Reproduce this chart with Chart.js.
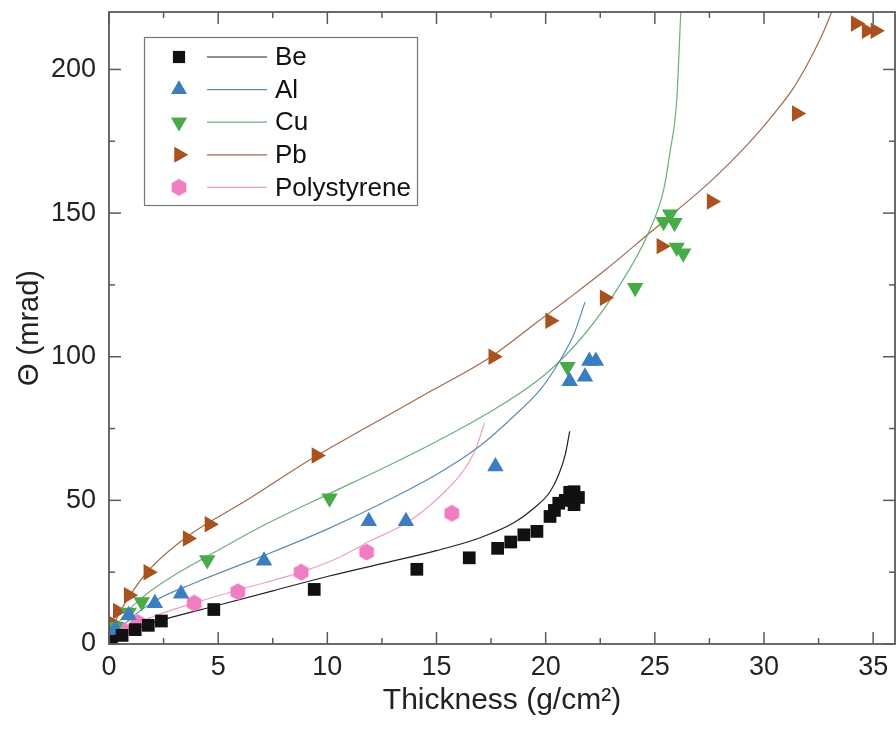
<!DOCTYPE html>
<html>
<head>
<meta charset="utf-8">
<script src="https://cdn.jsdelivr.net/npm/chart.js@4.4.1/dist/chart.umd.min.js"></script>
<style>
html, body { margin: 0; padding: 0; background: #fff; }
</style>
</head>
<body>
<canvas id="myChart" width="896" height="745"></canvas>
<script>
// measured points
const beX = [0.1, 0.6, 1.2, 1.8, 2.4, 4.8, 9.4, 14.1, 16.5, 17.8, 18.4, 19.0, 19.6, 20.2, 20.4, 20.6, 20.9, 21.1, 21.3, 21.5, 21.3];
const beY = [1, 3, 5, 6.5, 8, 12, 19, 26, 30, 33.3, 35.5, 38, 39.2, 44.4, 46.5, 49, 50, 52.8, 53, 51, 48.5];

const alX = [0.3, 0.9, 2.1, 3.3, 7.1, 11.9, 13.6, 17.7, 21.1, 21.8, 22.0, 22.3];
const alY = [5, 10, 14.2, 17.5, 29, 42.7, 42.7, 61.8, 91.5, 93, 98.5, 98.5];

const cuX = [0.3, 0.9, 1.5, 4.5, 10.1, 21.0, 24.1, 25.4, 25.7, 25.9, 26.0, 26.3];
const cuY = [6, 11, 14.6, 29.2, 50.7, 96.5, 124, 147, 149.6, 146.6, 138, 136];

const pbX = [0.15, 0.4, 0.9, 1.8, 3.6, 4.6, 9.5, 17.6, 20.2, 22.7, 25.3, 27.6, 31.5, 34.2, 34.7, 35.1];
const pbY = [7.3, 11.5, 17, 25, 36.7, 41.7, 65.6, 100, 112.5, 120.5, 138.5, 154, 184.7, 216, 213.5, 213.5];

const psX = [0.1, 0.3, 0.6, 1.3, 3.9, 5.9, 8.8, 11.8, 15.7];
const psY = [2, 4, 5, 7.5, 14.2, 18.2, 25, 32, 45.5];

// fit curves
const beFitX = [0, 0.5, 1.3, 2.5, 5, 7.5, 10, 12.5, 15, 17, 18.5, 19.5, 20.2, 20.6, 20.9, 21.1];
const beFitY = [0, 2.5, 5.6, 8.5, 13.5, 18.5, 23.5, 28, 32.5, 37, 42, 47.5, 53, 59, 66, 74];

const alFitX = [0, 0.5, 1, 2.1, 4, 7, 10, 12.5, 15, 17, 18.5, 19.8, 20.6, 21.3, 21.8];
const alFitY = [0, 5, 9, 15, 21.5, 30.5, 40, 49, 59, 69, 79, 89, 98, 108, 119];

const cuFitX = [0, 0.5, 1.5, 3, 4.5, 7, 10, 12.5, 15, 17.5, 20, 21.8, 23.4, 24.7, 25.4, 25.7, 26.0, 26.2];
const cuFitY = [0, 8, 16, 24, 30.5, 41, 52, 61, 70.5, 81, 94, 108, 125, 143, 158, 171.5, 189, 222];

const pbFitX = [0, 0.3, 0.8, 1.8, 3.6, 6.3, 9.5, 11.7, 14.5, 17.5, 19.6, 21, 22.7, 24.7, 27.4, 28.5, 29.5, 30.5, 31.3, 32, 32.6, 33.1, 33.3];
const pbFitY = [0, 8, 15, 25.5, 37.5, 50, 65.5, 75, 87, 100, 112, 120, 130, 142.7, 160, 168, 176, 185, 193, 202, 211, 220, 224];

const psFitX = [0, 1, 2, 4, 6, 8.8, 10.5, 12, 13.6, 15.1, 16.2, 16.8, 17.2];
const psFitY = [0, 6, 9.5, 14.5, 19, 25, 30, 36, 42, 51, 60, 68, 77];

const seriesNames = ['Be', 'Al', 'Cu', 'Pb', 'Polystyrene'];
const xTicks = [0, 5, 10, 15, 20, 25, 30, 35];
const xMinor = [2.5, 7.5, 12.5, 17.5, 22.5, 27.5, 32.5];
const yTicks = [0, 50, 100, 150, 200];
const yMinor = [25, 75, 125, 175];

function toXY(xs, ys) {
    return xs.map((x, i) => ({ x: x, y: ys[i] }));
}

// hexagon marker for polystyrene
function makeHexagon(color) {
    const c = document.createElement('canvas');
    c.width = 18; c.height = 18;
    const g = c.getContext('2d');
    g.fillStyle = color;
    g.beginPath();
    for (let k = 0; k < 6; k++) {
        const a = Math.PI / 6 + k * Math.PI / 3;
        const px = 9 + 8.5 * Math.cos(a), py = 9 + 8.5 * Math.sin(a);
        if (k === 0) g.moveTo(px, py); else g.lineTo(px, py);
    }
    g.closePath();
    g.fill();
    return c;
}
const hexagon = makeHexagon('#f07cc2');

const markers = [
    { color: '#111111', style: 'rect', radius: 9, rotation: 0 },
    { color: '#3a7dc0', style: 'triangle', radius: 9.5, rotation: 0 },
    { color: '#46ab48', style: 'triangle', radius: 9.5, rotation: 180 },
    { color: '#a9521f', style: 'triangle', radius: 9.5, rotation: 90 },
    { color: '#f07cc2', style: hexagon, radius: 9, rotation: 0 }
];
const fitColors = ['#222222', '#5b8db5', '#6caf78', '#a06a4c', '#e9a0cc'];

const pointSets = [toXY(beX, beY), toXY(alX, alY), toXY(cuX, cuY), toXY(pbX, pbY), toXY(psX, psY)];
const fitSets = [toXY(beFitX, beFitY), toXY(alFitX, alFitY), toXY(cuFitX, cuFitY), toXY(pbFitX, pbFitY), toXY(psFitX, psFitY)];

const datasets = [];
fitSets.forEach((d, i) => {
    datasets.push({
        type: 'line',
        label: seriesNames[i] + ' fit',
        data: d,
        borderColor: fitColors[i],
        borderWidth: 1.2,
        pointRadius: 0,
        cubicInterpolationMode: 'monotone',
        fill: false,
        clip: 0,
        order: 2
    });
});
pointSets.forEach((d, i) => {
    const m = markers[i];
    datasets.push({
        type: 'scatter',
        label: seriesNames[i],
        data: d,
        backgroundColor: m.color,
        borderColor: m.color,
        borderWidth: 0,
        pointStyle: m.style,
        pointRadius: m.radius,
        pointRotation: m.rotation,
        showLine: false,
        clip: 0,
        order: 1
    });
});

// inward ticks on all four sides + frame
const framePlugin = {
    id: 'frame',
    afterDatasetsDraw(chart) {
        const ctx = chart.ctx, a = chart.chartArea;
        const xs = chart.scales.x, ys = chart.scales.y;
        ctx.save();
        ctx.strokeStyle = '#5a5a5a';
        ctx.lineWidth = 1.5;
        const tick = (x1, y1, x2, y2) => { ctx.beginPath(); ctx.moveTo(x1, y1); ctx.lineTo(x2, y2); ctx.stroke(); };
        xTicks.forEach(v => { const p = xs.getPixelForValue(v); tick(p, a.bottom, p, a.bottom - 12); tick(p, a.top, p, a.top + 12); });
        xMinor.forEach(v => { const p = xs.getPixelForValue(v); tick(p, a.bottom, p, a.bottom - 6); tick(p, a.top, p, a.top + 6); });
        yTicks.forEach(v => { const p = ys.getPixelForValue(v); tick(a.left, p, a.left + 12, p); tick(a.right, p, a.right - 12, p); });
        yMinor.forEach(v => { const p = ys.getPixelForValue(v); tick(a.left, p, a.left + 6, p); tick(a.right, p, a.right - 6, p); });
        ctx.lineWidth = 1.8;
        ctx.strokeRect(a.left, a.top, a.right - a.left, a.bottom - a.top);
        ctx.restore();
    },
    afterDraw(chart) {
        // legend box with marker + line sample
        const ctx = chart.ctx;
        ctx.save();
        ctx.fillStyle = '#fff';
        ctx.fillRect(144, 37, 274, 169);
        ctx.strokeStyle = '#777';
        ctx.lineWidth = 1.2;
        ctx.strokeRect(144.5, 37.5, 273, 168);
        ctx.font = '26px "Liberation Sans", Arial, sans-serif';
        ctx.textBaseline = 'middle';
        seriesNames.forEach((name, i) => {
            const y = 57 + i * 32.6;
            const m = markers[i];
            ctx.fillStyle = m.color;
            ctx.strokeStyle = m.color;
            Chart.helpers.drawPoint(ctx, { pointStyle: m.style, radius: m.radius * 0.95, rotation: m.rotation, borderWidth: 0 }, 179, y);
            ctx.fill();
            ctx.strokeStyle = fitColors[i];
            ctx.lineWidth = 1.2;
            ctx.beginPath(); ctx.moveTo(207, y); ctx.lineTo(267, y); ctx.stroke();
            ctx.fillStyle = '#111';
            ctx.fillText(name, 275, y + 1);
        });
        ctx.restore();
    }
};

const ctx = document.getElementById('myChart').getContext('2d');
const myChart = new Chart(ctx, {
    data: { datasets: datasets },
    options: {
        responsive: false,
        animation: false,
        layout: { autoPadding: false, padding: { top: 12, right: 1, left: 0, bottom: 0 } },
        plugins: { legend: { display: false }, tooltip: { enabled: false } },
        scales: {
            x: {
                type: 'linear',
                min: 0,
                max: 36,
                afterBuildTicks: s => { s.ticks = xTicks.map(v => ({ value: v })); },
                afterFit: s => { s.height = 101; s.paddingLeft = 0; s.paddingRight = 0; },
                grid: { display: false, drawTicks: false },
                border: { display: false },
                ticks: { color: '#222', padding: 7, font: { size: 27, family: '"Liberation Sans", Arial' } },
                title: {
                    display: true,
                    text: 'Thickness (g/cm\u00B2)',
                    color: '#222',
                    font: { size: 30, family: '"Liberation Sans", Arial' },
                    padding: { top: 0, bottom: 26 }
                }
            },
            y: {
                type: 'linear',
                min: 0,
                max: 220,
                afterBuildTicks: s => { s.ticks = yTicks.map(v => ({ value: v })); },
                afterFit: s => { s.width = 109; s.paddingTop = 0; s.paddingBottom = 0; },
                grid: { display: false, drawTicks: false },
                border: { display: false },
                ticks: { color: '#222', padding: 13, font: { size: 27, family: '"Liberation Sans", Arial' } },
                title: {
                    display: true,
                    text: '\u0398 (mrad)',
                    color: '#222',
                    font: { size: 29, family: '"Liberation Sans", Arial' },
                    padding: { top: 13, bottom: 0 }
                }
            }
        }
    },
    plugins: [framePlugin]
});
</script>
</body>
</html>
